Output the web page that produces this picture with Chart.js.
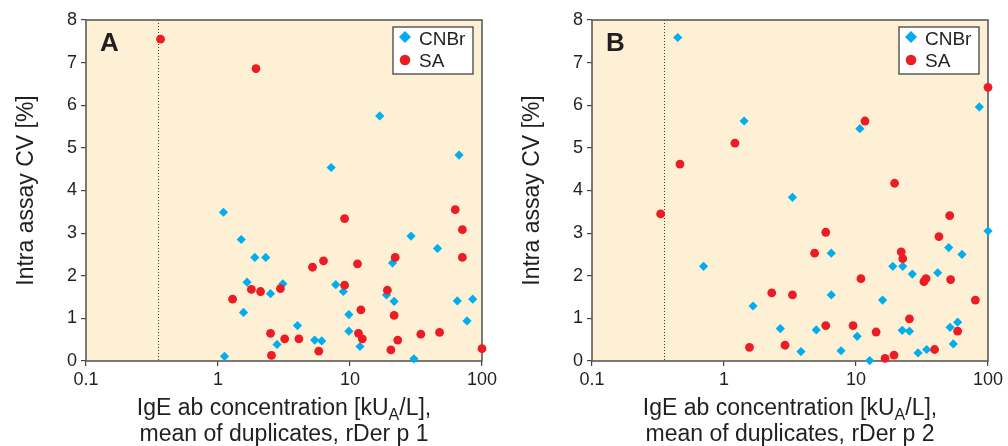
<!DOCTYPE html>
<html>
<head>
<meta charset="utf-8">
<script src="https://cdn.jsdelivr.net/npm/chart.js@4.4.1/dist/chart.umd.min.js"></script>
<style>
  body { margin: 0; background: #fff; width: 1008px; height: 446px; overflow: hidden; position: relative; }
  .panel { position: absolute; top: 0; width: 504px; height: 446px; }
</style>
</head>
<body>
<div class="panel" style="left:0"><canvas id="chartA"></canvas></div>
<div class="panel" style="left:506px"><canvas id="chartB"></canvas></div>
<script>
// tick labels
const xTicks = [0.1, 1, 10, 100];
const yTicks = [0, 1, 2, 3, 4, 5, 6, 7, 8];
const cutoff = 0.35; // dotted line

// panel A - rDer p 1
const aCnbrX = [7.2, 16.8, 67, 1.1, 1.5, 1.9, 2.3, 1.66, 3.1, 2.5, 1.56, 1.12, 4.0, 2.8, 5.4, 6.1, 7.8, 8.9, 9.8, 9.8, 11.9, 21, 18.9, 21.6, 29, 30.5, 46, 65, 85, 77];
const aCnbrY = [4.54, 5.75, 4.83, 3.49, 2.85, 2.43, 2.43, 1.85, 1.81, 1.58, 1.14, 0.11, 0.83, 0.39, 0.49, 0.47, 1.79, 1.63, 1.09, 0.70, 0.34, 2.30, 1.55, 1.40, 2.93, 0.05, 2.64, 1.41, 1.45, 0.94];
const aSaX = [0.367, 1.94, 1.29, 1.79, 2.1, 2.97, 2.5, 2.54, 3.2, 4.1, 5.2, 6.3, 5.8, 9.1, 9.1, 11.4, 12.1, 11.6, 12.4, 19.2, 22, 21.6, 20.4, 23, 34.4, 47.7, 62.7, 71, 71, 100];
const aSaY = [7.55, 6.86, 1.45, 1.68, 1.63, 1.70, 0.65, 0.13, 0.52, 0.52, 2.20, 2.35, 0.23, 3.34, 1.78, 2.28, 1.20, 0.65, 0.52, 1.66, 2.43, 1.07, 0.26, 0.49, 0.63, 0.67, 3.55, 3.08, 2.43, 0.29];

// panel B - rDer p 2
const bCnbrX = [0.446, 1.42, 10.7, 86, 3.3, 0.70, 1.66, 2.67, 3.83, 5.0, 6.5, 6.5, 7.7, 10.2, 12.7, 15.9, 19, 22.6, 22.4, 25.4, 26.7, 29.5, 34.3, 41.6, 50.4, 51.6, 54.6, 58.9, 63.5, 100];
const bCnbrY = [7.59, 5.63, 5.45, 5.96, 3.84, 2.22, 1.29, 0.76, 0.22, 0.73, 2.53, 1.55, 0.24, 0.58, 0.01, 1.43, 2.22, 2.22, 0.72, 0.70, 2.04, 0.19, 0.27, 2.07, 2.66, 0.79, 0.40, 0.91, 2.50, 3.05];
const bSaX = [0.464, 1.21, 11.7, 100, 19.6, 0.331, 1.56, 2.3, 3.3, 2.9, 4.86, 5.9, 5.9, 9.5, 10.9, 14.2, 16.6, 19.4, 22, 22.6, 25.4, 32.7, 33.9, 39.4, 42.5, 51.3, 52.1, 58.9, 80.2];
const bSaY = [4.62, 5.11, 5.63, 6.42, 4.17, 3.45, 0.32, 1.60, 1.55, 0.37, 2.53, 3.02, 0.83, 0.83, 1.93, 0.68, 0.06, 0.14, 2.56, 2.40, 0.99, 1.86, 1.93, 0.27, 2.92, 3.41, 1.91, 0.70, 1.43];

const BLUE = '#00aeef';
const RED = '#ed1c24';
const FONT = '"Liberation Sans", Arial, Helvetica, sans-serif';
const INK = '#231f20';

function pts(xs, ys) {
    return xs.map((x, i) => ({ x: x, y: ys[i] }));
}

const decor = {
    id: 'decor',
    beforeDraw(chart) {
        const a = chart.chartArea, c = chart.ctx;
        c.save();
        c.fillStyle = '#fdf0d5';
        c.fillRect(a.left, a.top, a.right - a.left, a.bottom - a.top);
        c.restore();
    },
    beforeDatasetsDraw(chart) {
        const a = chart.chartArea, c = chart.ctx;
        const px = Math.round(chart.scales.x.getPixelForValue(cutoff)) + 0.5;
        c.save();
        c.strokeStyle = '#3a3a3a';
        c.lineWidth = 1;
        c.setLineDash([1, 2]);
        c.beginPath();
        c.moveTo(px, a.top);
        c.lineTo(px, a.bottom);
        c.stroke();
        c.setLineDash([]);
        c.strokeStyle = '#5a5a5a';
        c.lineWidth = 1.6;
        c.strokeRect(a.left, a.top, a.right - a.left, a.bottom - a.top);
        c.restore();
    },
    afterDraw(chart, args, opts) {
        const a = chart.chartArea, c = chart.ctx;
        c.save();
        // panel letter
        c.fillStyle = INK;
        c.font = 'bold 26px ' + FONT;
        c.textBaseline = 'alphabetic';
        c.fillText(opts.letter, a.left + 14, a.top + 31);

        // legend box
        const lx = a.right - 89, ly = a.top + 7, lw = 80, lh = 47;
        c.fillStyle = '#fff';
        c.fillRect(lx, ly, lw, lh);
        c.strokeStyle = '#444';
        c.lineWidth = 1.3;
        c.strokeRect(lx, ly, lw, lh);
        c.fillStyle = BLUE;
        c.beginPath();
        c.moveTo(lx + 12 - 6, ly + 10);
        c.lineTo(lx + 12, ly + 4);
        c.lineTo(lx + 12 + 6, ly + 10);
        c.lineTo(lx + 12, ly + 16);
        c.closePath();
        c.fill();
        c.fillStyle = RED;
        c.beginPath();
        c.arc(lx + 12, ly + 33, 5.3, 0, Math.PI * 2);
        c.fill();
        c.fillStyle = INK;
        c.font = '19px ' + FONT;
        c.fillText('CNBr', lx + 26, ly + 18);
        c.fillText('SA', lx + 26, ly + 40);

        // y title
        c.font = '23px ' + FONT;
        c.textAlign = 'center';
        c.save();
        c.translate(a.left - 53, (a.top + a.bottom) / 2);
        c.rotate(-Math.PI / 2);
        c.fillText('Intra assay CV [%]', 0, 0);
        c.restore();

        // x title with subscript
        const cx = (a.left + a.right) / 2;
        const p1 = 'IgE ab concentration [kU', sub = 'A', p2 = '/L],';
        c.font = '23px ' + FONT;
        const w1 = c.measureText(p1).width, w3 = c.measureText(p2).width;
        c.font = '16px ' + FONT;
        const w2 = c.measureText(sub).width;
        let x0 = cx - (w1 + w2 + w3) / 2;
        c.textAlign = 'left';
        c.font = '23px ' + FONT;
        c.fillText(p1, x0, a.bottom + 54);
        c.font = '16px ' + FONT;
        c.fillText(sub, x0 + w1, a.bottom + 59);
        c.font = '23px ' + FONT;
        c.fillText(p2, x0 + w1 + w2, a.bottom + 54);
        c.textAlign = 'center';
        c.fillText(opts.line2, cx, a.bottom + 80);
        c.restore();
    }
};

function makeChart(id, letter, line2, cx, cy, sx, sy) {
    return new Chart(document.getElementById(id), {
        type: 'scatter',
        data: {
            datasets: [{
                label: 'CNBr',
                data: pts(cx, cy),
                pointStyle: 'rectRot',
                pointRadius: 4.6,
                pointHoverRadius: 4.6,
                backgroundColor: BLUE,
                borderWidth: 0,
                order: 1,
                clip: false
            }, {
                label: 'SA',
                data: pts(sx, sy),
                pointStyle: 'circle',
                pointRadius: 4.4,
                pointHoverRadius: 4.4,
                backgroundColor: RED,
                borderWidth: 0,
                order: 0,
                clip: false
            }]
        },
        options: {
            responsive: true,
            maintainAspectRatio: false,
            animation: false,
            layout: { padding: { top: 20, right: 22, left: 0, bottom: 0 } },
            plugins: {
                legend: { display: false },
                tooltip: { enabled: false },
                decor: { letter: letter, line2: line2 }
            },
            scales: {
                x: {
                    type: 'logarithmic',
                    min: 0.1,
                    max: 100,
                    afterBuildTicks: s => { s.ticks = xTicks.map(v => ({ value: v })); },
                    afterFit: s => { s.height = 85; },
                    ticks: {
                        callback: v => String(v),
                        autoSkip: false,
                        maxRotation: 0,
                        padding: 3,
                        color: INK,
                        font: { family: FONT, size: 18 }
                    },
                    grid: { drawOnChartArea: false, tickLength: 5, color: '#444', lineWidth: 1.2 },
                    border: { display: false }
                },
                y: {
                    min: 0,
                    max: 8,
                    afterBuildTicks: s => { s.ticks = yTicks.map(v => ({ value: v })); },
                    afterFit: s => { s.width = 86; },
                    ticks: {
                        padding: 4,
                        color: INK,
                        font: { family: FONT, size: 18 }
                    },
                    grid: { drawOnChartArea: false, tickLength: 5, color: '#444', lineWidth: 1.2 },
                    border: { display: false }
                }
            }
        },
        plugins: [decor]
    });
}

makeChart('chartA', 'A', 'mean of duplicates, rDer p 1', aCnbrX, aCnbrY, aSaX, aSaY);
makeChart('chartB', 'B', 'mean of duplicates, rDer p 2', bCnbrX, bCnbrY, bSaX, bSaY);
</script>
</body>
</html>
